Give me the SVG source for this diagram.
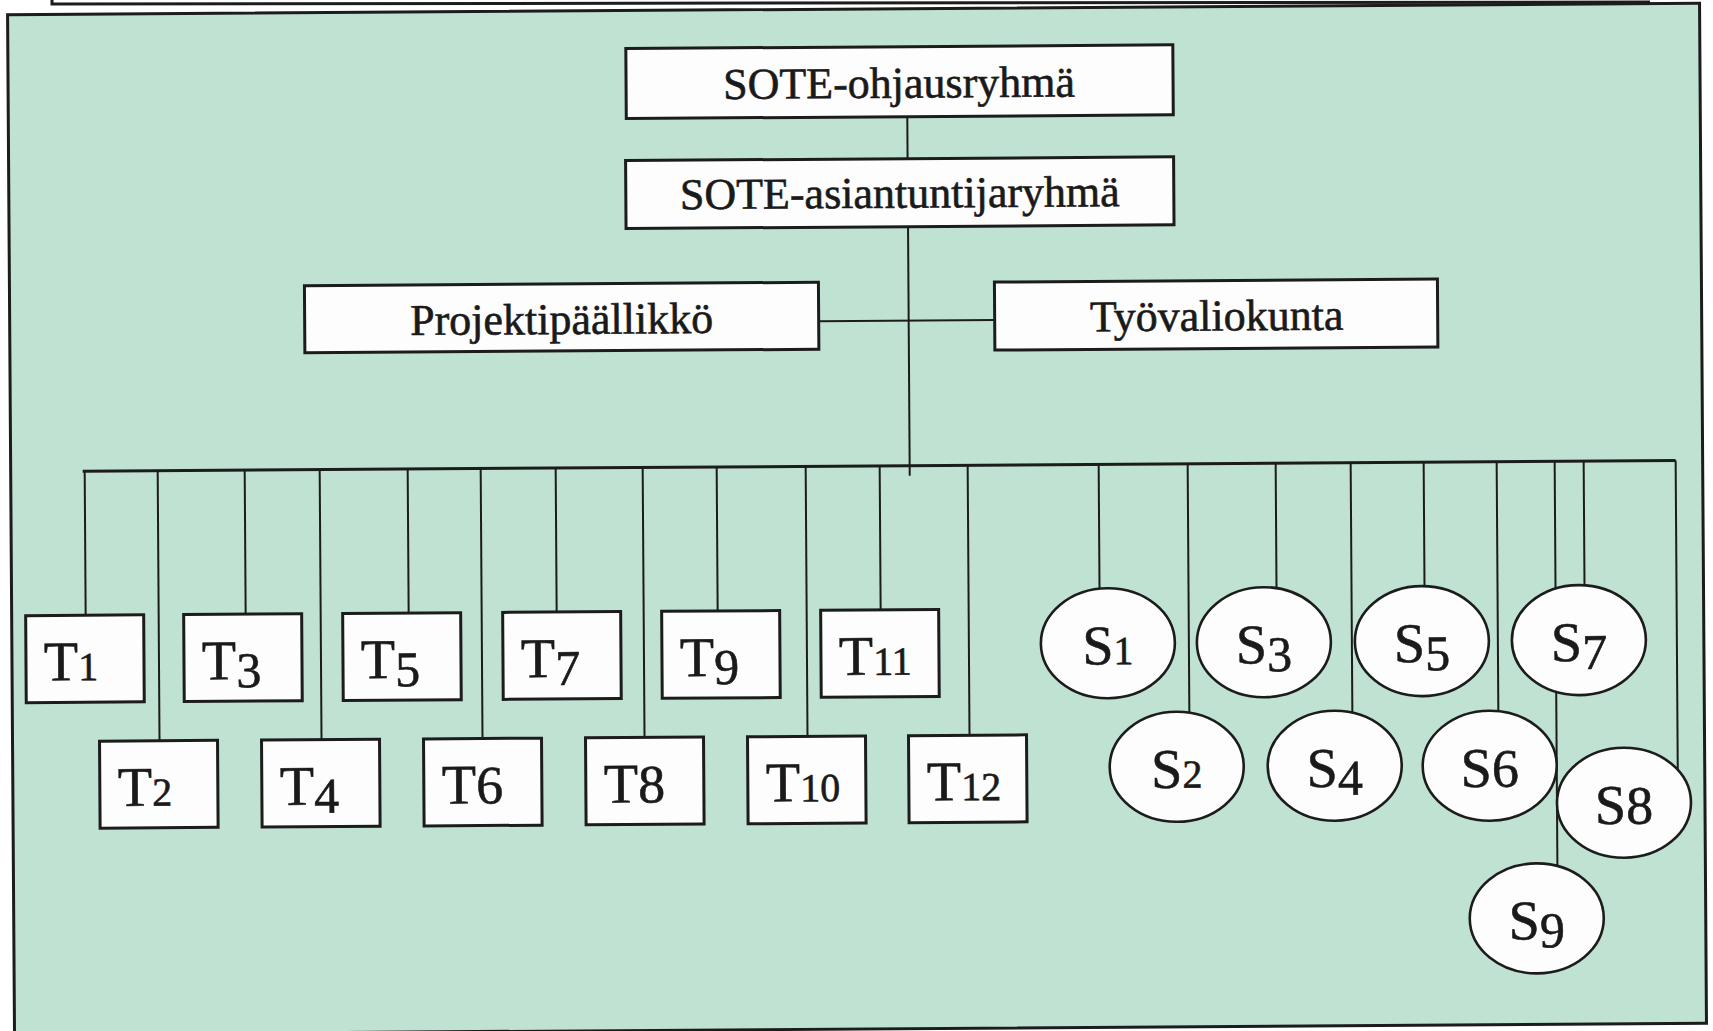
<svg xmlns="http://www.w3.org/2000/svg" width="1713" height="1031" viewBox="0 0 1713 1031">
<style>
  .box { fill: #fdfdfd; stroke: #1c1c1c; stroke-width: 3; }
  .ell { fill: #fdfdfd; stroke: #1c1c1c; stroke-width: 2.6; }
  .ln { stroke: #1c1c1c; stroke-width: 2; fill: none; }
  .bus { stroke: #1c1c1c; stroke-width: 3; fill: none; }
  .title { font-family: "Liberation Serif", "Times New Roman", serif; font-size: 44px; fill: #1a1a1a; stroke: #1a1a1a; stroke-width: 0.6; text-anchor: middle; }
  .lbl { font-family: "Liberation Serif", "Times New Roman", serif; font-size: 56px; fill: #1a1a1a; stroke: #1a1a1a; stroke-width: 0.6; text-anchor: middle; }
  .tl { text-anchor: start; }
  .s { font-size: 40px; }
  .d { font-size: 50px; }
  .a { font-size: 54px; }
</style>
<rect x="0" y="0" width="1713" height="1031" fill="#ffffff"/>
<path d="M52,-3 L52,4 L1650,2" fill="none" stroke="#1c1c1c" stroke-width="3"/>
<g transform="rotate(-0.39 856 515)">
  <rect id="panel" x="11" y="9" width="1692" height="1020" fill="#c0e2d2" stroke="#1c1c1c" stroke-width="3"/>
  <g id="connectors">
    <line class="ln" x1="910" y1="117" x2="910" y2="159"/>
    <line class="ln" x1="910" y1="227" x2="910" y2="476"/>
    <line class="ln" x1="820" y1="321" x2="996" y2="321"/>
    <line class="bus" x1="83" y1="466" x2="1676" y2="466"/>
    <line class="ln" x1="85" y1="466" x2="85" y2="610"/>
    <line class="ln" x1="158" y1="466" x2="158" y2="736"/>
    <line class="ln" x1="245" y1="466" x2="245" y2="610"/>
    <line class="ln" x1="320" y1="466" x2="320" y2="736"/>
    <line class="ln" x1="408" y1="466" x2="408" y2="610"/>
    <line class="ln" x1="481" y1="466" x2="481" y2="736"/>
    <line class="ln" x1="556" y1="466" x2="556" y2="610"/>
    <line class="ln" x1="643" y1="466" x2="643" y2="736"/>
    <line class="ln" x1="717" y1="466" x2="717" y2="610"/>
    <line class="ln" x1="806" y1="466" x2="806" y2="736"/>
    <line class="ln" x1="880" y1="466" x2="880" y2="610"/>
    <line class="ln" x1="968" y1="466" x2="968" y2="736"/>
    <line class="ln" x1="1099" y1="466" x2="1099" y2="645"/>
    <line class="ln" x1="1188" y1="466" x2="1188" y2="769"/>
    <line class="ln" x1="1276" y1="466" x2="1276" y2="645"/>
    <line class="ln" x1="1351" y1="466" x2="1351" y2="769"/>
    <line class="ln" x1="1424" y1="466" x2="1424" y2="645"/>
    <line class="ln" x1="1497" y1="466" x2="1497" y2="770"/>
    <line class="ln" x1="1555" y1="466" x2="1555" y2="923"/>
    <line class="ln" x1="1584" y1="466" x2="1584" y2="645"/>
    <line class="ln" x1="1676" y1="466" x2="1676" y2="808"/>
  </g>
  <g id="sote-ohjausryhma">
    <rect class="box" x="629" y="47" width="547" height="70"/>
    <text class="title" x="902" y="98">SOTE-ohjausryhmä</text>
  </g>
  <g id="sote-asiantuntijaryhma">
    <rect class="box" x="628" y="159" width="548" height="68"/>
    <text class="title" x="902" y="208">SOTE-asiantuntijaryhmä</text>
  </g>
  <g id="projektipaallikko">
    <rect class="box" x="306" y="282" width="514" height="67"/>
    <text class="title" x="563" y="332">Projektipäällikkö</text>
  </g>
  <g id="tyovaliokunta">
    <rect class="box" x="996" y="283" width="443" height="68"/>
    <text class="title" x="1218" y="333">Työvaliokunta</text>
  </g>
  <g id="T1"><rect class="box" x="25" y="610" width="118" height="87"/><text class="lbl tl" x="43" y="675">T<tspan class="s">1</tspan></text></g>
  <g id="T3"><rect class="box" x="183" y="610" width="118" height="87"/><text class="lbl tl" x="201" y="675">T<tspan class="d" dy="8">3</tspan></text></g>
  <g id="T5"><rect class="box" x="342" y="610" width="118" height="87"/><text class="lbl tl" x="360" y="675">T<tspan class="d" dy="8">5</tspan></text></g>
  <g id="T7"><rect class="box" x="502" y="610" width="118" height="87"/><text class="lbl tl" x="520" y="675">T<tspan class="d" dy="8">7</tspan></text></g>
  <g id="T9"><rect class="box" x="661" y="610" width="118" height="87"/><text class="lbl tl" x="679" y="675">T<tspan class="d" dy="8">9</tspan></text></g>
  <g id="T11"><rect class="box" x="820" y="610" width="118" height="87"/><text class="lbl tl" x="838" y="675">T<tspan class="s">11</tspan></text></g>
  <g id="T2"><rect class="box" x="98" y="736" width="118" height="87"/><text class="lbl tl" x="116" y="801">T<tspan class="s">2</tspan></text></g>
  <g id="T4"><rect class="box" x="260" y="736" width="118" height="87"/><text class="lbl tl" x="278" y="801">T<tspan class="d" dy="8">4</tspan></text></g>
  <g id="T6"><rect class="box" x="422" y="736" width="118" height="87"/><text class="lbl tl" x="440" y="801">T<tspan class="a">6</tspan></text></g>
  <g id="T8"><rect class="box" x="584" y="736" width="118" height="87"/><text class="lbl tl" x="602" y="801">T<tspan class="a">8</tspan></text></g>
  <g id="T10"><rect class="box" x="746" y="736" width="118" height="87"/><text class="lbl tl" x="764" y="801">T<tspan class="s">10</tspan></text></g>
  <g id="T12"><rect class="box" x="907" y="736" width="118" height="87"/><text class="lbl tl" x="925" y="801">T<tspan class="s">12</tspan></text></g>
  <g id="S1"><ellipse class="ell" cx="1107" cy="645" rx="67" ry="55"/><text class="lbl" x="1107" y="666">S<tspan class="s">1</tspan></text></g>
  <g id="S3"><ellipse class="ell" cx="1263" cy="645" rx="67" ry="55"/><text class="lbl" x="1263" y="666">S<tspan class="d" dy="8">3</tspan></text></g>
  <g id="S5"><ellipse class="ell" cx="1421" cy="645" rx="67" ry="55"/><text class="lbl" x="1421" y="666">S<tspan class="d" dy="8">5</tspan></text></g>
  <g id="S7"><ellipse class="ell" cx="1578" cy="645" rx="67" ry="55"/><text class="lbl" x="1578" y="666">S<tspan class="d" dy="8">7</tspan></text></g>
  <g id="S2"><ellipse class="ell" cx="1175" cy="769" rx="67" ry="55"/><text class="lbl" x="1175" y="790">S<tspan class="s">2</tspan></text></g>
  <g id="S4"><ellipse class="ell" cx="1333" cy="769" rx="67" ry="55"/><text class="lbl" x="1333" y="790">S<tspan class="d" dy="8">4</tspan></text></g>
  <g id="S6"><ellipse class="ell" cx="1488" cy="770" rx="67" ry="55"/><text class="lbl" x="1488" y="791">S<tspan class="a">6</tspan></text></g>
  <g id="S8"><ellipse class="ell" cx="1622" cy="808" rx="67" ry="55"/><text class="lbl" x="1622" y="829">S<tspan class="a">8</tspan></text></g>
  <g id="S9"><ellipse class="ell" cx="1534" cy="923" rx="67" ry="55"/><text class="lbl" x="1534" y="944">S<tspan class="d" dy="8">9</tspan></text></g>
</g>
</svg>
